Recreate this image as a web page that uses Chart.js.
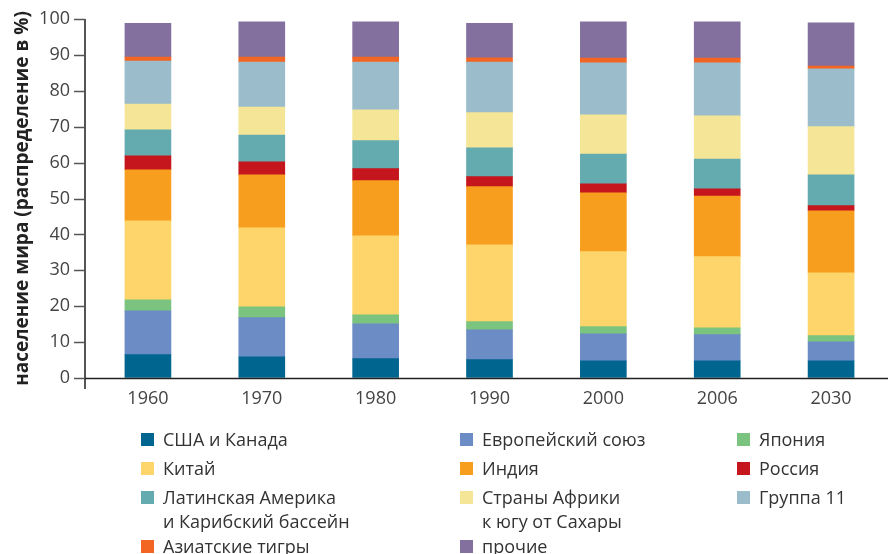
<!DOCTYPE html>
<html>
<head>
<meta charset="utf-8">
<script src="https://cdn.jsdelivr.net/npm/chart.js@4"></script>
<style>
  html, body { margin: 0; padding: 0; background: #fff; }
  #wrap { position: relative; width: 888px; height: 554px; }
  #legend { position: absolute; left: 0; top: 0; width: 888px; height: 554px; pointer-events: none;
            font-family: 'Open Sans', sans-serif; font-size: 18px; color: #333; }
  .item { position: absolute; line-height: 24px; }
  .sw { position: absolute; left: 0; top: 6px; width: 13px; height: 13px; }
  .txt { position: absolute; left: 22px; top: 0; white-space: pre; }
</style>
</head>
<body>
<div id="wrap">
  <canvas id="chart" width="888" height="554"></canvas>
  <div id="legend"></div>
</div>
<script>
const categories = ['1960', '1970', '1980', '1990', '2000', '2006', '2030'];

const usCanada = [6.5, 5.9, 5.4, 5.1, 4.8, 4.8, 4.8];
const eu       = [12.2, 10.9, 9.7, 8.3, 7.5, 7.3, 5.3];
const japan    = [3.1, 3.0, 2.5, 2.3, 2.0, 1.9, 1.7];
const china    = [22.0, 22.0, 22.0, 21.4, 20.9, 19.8, 17.5];
const india    = [14.2, 14.8, 15.4, 16.2, 16.4, 16.9, 17.3];
const russia   = [3.9, 3.6, 3.3, 2.8, 2.5, 2.0, 1.4];
const latAm    = [7.2, 7.5, 7.8, 8.0, 8.3, 8.3, 8.6];
const africa   = [7.2, 7.8, 8.6, 9.8, 10.9, 12.0, 13.4];
const group11  = [12.0, 12.5, 13.3, 14.1, 14.5, 14.8, 16.1];
const tigers   = [1.1, 1.4, 1.4, 1.2, 1.3, 1.3, 0.8];
const others   = [9.4, 9.8, 9.8, 9.6, 10.1, 10.1, 12.0];

const seriesNames = [
    'США и Канада', 'Европейский союз', 'Япония',
    'Китай', 'Индия', 'Россия',
    'Латинская Америка\nи Карибский бассейн', 'Страны Африки\nк югу от Сахары', 'Группа 11',
    'Азиатские тигры', 'прочие'
];
const seriesData = [usCanada, eu, japan, china, india, russia, latAm, africa, group11, tigers, others];
const colores = ['#00668f', '#6c8cc6', '#7bc47f', '#fdd56a', '#f79e1e', '#c4161c',
                 '#64abb0', '#f4e597', '#9bbccb', '#f26522', '#84709f'];

const yTicks = [0, 10, 20, 30, 40, 50, 60, 70, 80, 90, 100];

Chart.defaults.font.family = "'Open Sans', sans-serif";
Chart.defaults.color = '#444';

// ejes dibujados a mano (la linea vertical esta un poco a la izquierda del area)
const ejes = {
    id: 'ejes',
    afterDraw(chart) {
        const ctx = chart.ctx;
        const y = chart.scales.y;
        const area = chart.chartArea;
        const ax = area.left - 6;
        const y0 = y.getPixelForValue(0);
        const yTop = y.getPixelForValue(100);
        ctx.save();
        ctx.strokeStyle = '#555';
        ctx.lineWidth = 2;
        ctx.beginPath();
        ctx.moveTo(ax, yTop);
        ctx.lineTo(ax, y0 + 11);
        ctx.stroke();
        ctx.lineWidth = 1.5;
        yTicks.forEach(v => {
            const py = Math.round(y.getPixelForValue(v)) + 0.5;
            ctx.beginPath();
            ctx.moveTo(ax - 11, py);
            ctx.lineTo(ax, py);
            ctx.stroke();
        });
        ctx.strokeStyle = '#222';
        ctx.lineWidth = 1.5;
        ctx.beginPath();
        ctx.moveTo(ax, y0 + 0.5);
        ctx.lineTo(chart.width, y0 + 0.5);
        ctx.stroke();
        ctx.restore();
    }
};

const chart = new Chart(document.getElementById('chart'), {
    type: 'bar',
    data: {
        labels: categories,
        datasets: seriesNames.map((n, i) => ({
            label: n,
            data: seriesData[i],
            backgroundColor: colores[i],
            borderWidth: 0,
            barThickness: 46
        }))
    },
    options: {
        responsive: false,
        animation: false,
        layout: { padding: { top: 19, right: 0, left: 0, bottom: 0 } },
        plugins: { legend: { display: false }, tooltip: { enabled: false } },
        scales: {
            x: {
                stacked: true,
                grid: { display: false, drawTicks: false },
                border: { display: false },
                ticks: { font: { size: 18 }, color: '#444', padding: 10 },
                afterFit: s => { s.height = 176; }
            },
            y: {
                stacked: true,
                min: 0,
                max: 100,
                // marcas transparentes: solo sirven para separar las etiquetas del eje
                grid: { display: true, drawOnChartArea: false, drawTicks: true, tickLength: 21, color: 'rgba(0,0,0,0)' },
                border: { display: false },
                ticks: { stepSize: 10, font: { size: 18 }, color: '#444', padding: 0 },
                title: {
                    display: true,
                    text: 'население мира (распределение в %)',
                    font: { size: 19, weight: 'bold' },
                    color: '#222',
                    padding: { top: 11, bottom: 0 }
                },
                afterFit: s => { s.width = 91; }
            }
        }
    },
    plugins: [ejes]
});

// leyenda en html, 3 columnas
function llenarLeyenda(chart) {
    const cont = document.getElementById('legend');
    const colX = [141, 460, 737];
    const rowY = [427, 456, 485, 534];
    chart.data.datasets.forEach((ds, i) => {
        const d = document.createElement('div');
        d.className = 'item';
        d.style.left = colX[i % 3] + 'px';
        d.style.top = rowY[Math.floor(i / 3)] + 'px';
        d.innerHTML = `<span class="sw" style="background:${ds.backgroundColor}"></span><span class="txt">${ds.label}</span>`;
        cont.appendChild(d);
    });
}
llenarLeyenda(chart);
</script>
</body>
</html>
